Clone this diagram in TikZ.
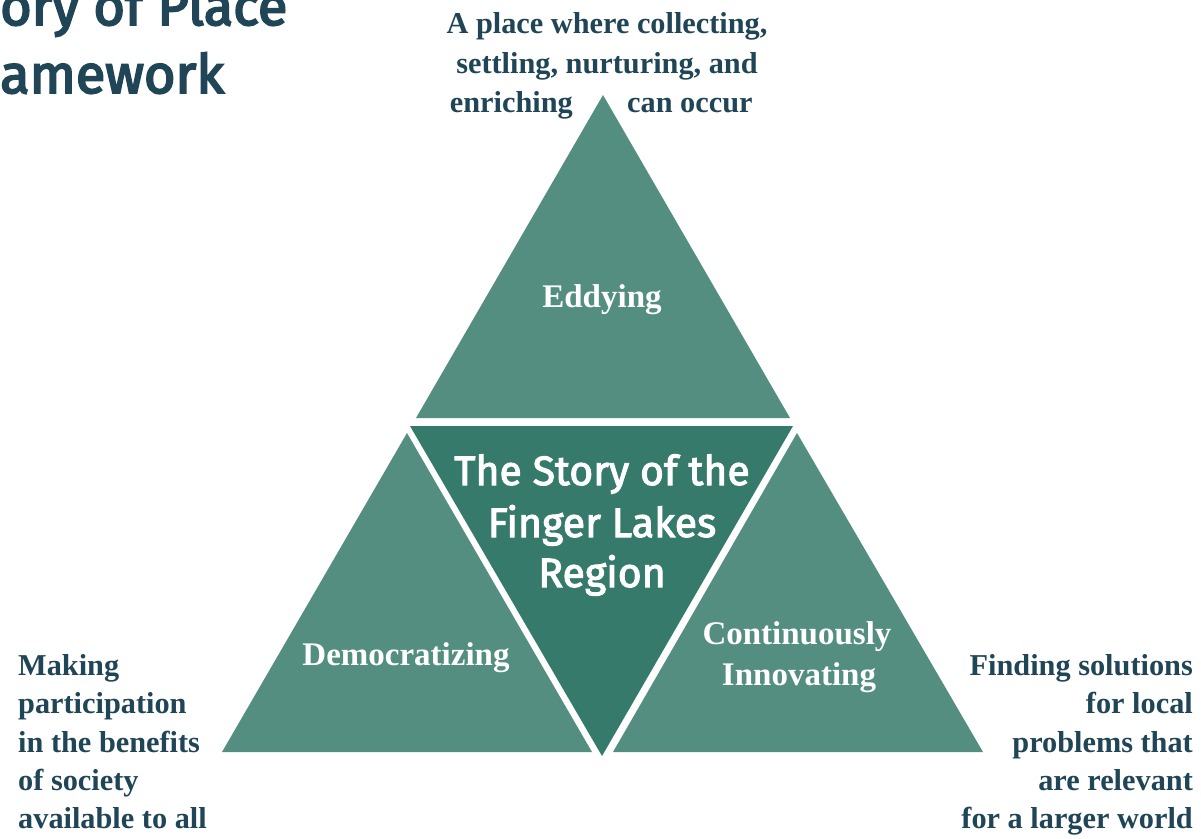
\documentclass[tikz,border=0pt]{standalone}
\usepackage{fontspec}
\setmainfont{Liberation Serif}
\newfontfamily\fira{Fira Sans}[FakeBold=2.5]
\newfontfamily\firatitle{Fira Sans}[FakeBold=3.5]
\definecolor{lightteal}{HTML}{548E80}
\definecolor{darkteal}{HTML}{367A6B}
\definecolor{inkblue}{HTML}{1F4556}
\tikzset{
  facet/.style={fill=lightteal, draw=none},
  corefacet/.style={fill=darkteal, draw=none},
  note/.style={text=inkblue, font=\fontsize{30.3}{38}\selectfont\bfseries, inner sep=0pt},
  facetlabel/.style={text=white, font=\fontsize{33}{40}\selectfont\bfseries, inner sep=0pt},
  corelabel/.style={text=white, font=\fira\fontsize{41}{51}\selectfont, inner sep=0pt},
  titletext/.style={text=inkblue, font=\firatitle\fontsize{54}{68}\selectfont, inner sep=0pt},
}
\begin{document}
\begin{tikzpicture}[x=1pt,y=-1pt]
\useasboundingbox (0,0) rectangle (1201,838);
% triangles
\path[facet] (603,95) -- (416,418) -- (790,418) -- cycle;
\path[facet] (407,433) -- (222,752) -- (592,752) -- cycle;
\path[facet] (797,433) -- (613,752) -- (983,752) -- cycle;
\path[corefacet] (410,426) -- (793,426) -- (602,756) -- cycle;
% title (clipped in the reference)
\node[titletext, anchor=base west] (title1) at (0,25) {ory of Place};
\node[titletext, anchor=base west] (title2) at (0,93) {amework};
% top note
\node[note, anchor=base] (t1) at (607,33) {A place where collecting,};
\node[note, anchor=base] (t2) at (607,73) {settling, nurturing, and};
\node[note, anchor=base east] (t3a) at (573,112) {enriching};
\node[note, anchor=base west] (t3b) at (627,112) {can occur};
% left note
\node[note, anchor=base west] (l1) at (18,675) {Making};
\node[note, anchor=base west] (l2) at (18,713) {participation};
\node[note, anchor=base west] (l3) at (18,752) {in the benefits};
\node[note, anchor=base west] (l4) at (18,790) {of society};
\node[note, anchor=base west] (l5) at (18,828) {available to all};
% right note
\node[note, anchor=base east] (r1) at (1193,675) {Finding solutions};
\node[note, anchor=base east] (r2) at (1193,713) {for local};
\node[note, anchor=base east] (r3) at (1193,752) {problems that};
\node[note, anchor=base east] (r4) at (1193,790) {are relevant};
\node[note, anchor=base east] (r5) at (1193,828) {for a larger world};
% facet labels
\node[facetlabel, anchor=base] (eddy) at (602,307) {Eddying};
\node[facetlabel, anchor=base] (demo) at (406,665) {Democratizing};
\node[facetlabel, anchor=base] (cont1) at (797,644) {Continuously};
\node[facetlabel, anchor=base] (cont2) at (799,685) {Innovating};
% core
\node[corelabel, anchor=base] (c1) at (602,485) {The Story of the};
\node[corelabel, anchor=base] (c2) at (602,537) {Finger Lakes};
\node[corelabel, anchor=base] (c3) at (602,587) {Region};
\end{tikzpicture}
\end{document}
